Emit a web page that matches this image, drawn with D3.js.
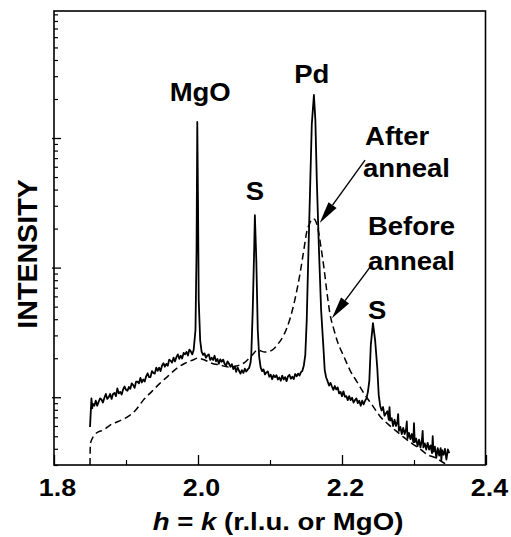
<!DOCTYPE html>
<html>
<head>
<meta charset="utf-8">
<script src="https://cdn.jsdelivr.net/npm/d3@7"></script>
<style>
  body { margin: 0; background: #fff; }
  svg { display: block; }
  text { font-family: "Liberation Sans", Arial, Helvetica, sans-serif; font-weight: bold; fill: #000; }
</style>
</head>
<body>
<svg id="chart" width="511" height="537"></svg>
<script>
// Scan after anneal: [h = k, intensity]
const afterAnneal = [
  [1.850, 5.9], [1.851, 7.6], [1.852, 9.8], [1.853, 8.2], [1.854, 8.9], [1.856, 8.6],
  [1.858, 9.4], [1.860, 8.6], [1.862, 9.2], [1.864, 9.8], [1.866, 9.6], [1.868, 9.1],
  [1.870, 9.9], [1.872, 10.6], [1.874, 9.7], [1.876, 10.0], [1.878, 10.6], [1.880, 9.7],
  [1.882, 10.6], [1.884, 10.8], [1.886, 10.2], [1.888, 11.7], [1.890, 10.7], [1.892, 11.0],
  [1.894, 10.5], [1.896, 11.5], [1.898, 12.1], [1.900, 11.4], [1.902, 11.2], [1.904, 12.0],
  [1.906, 11.6], [1.908, 12.8], [1.910, 12.4], [1.912, 11.8], [1.914, 13.2], [1.916, 13.2],
  [1.918, 12.8], [1.920, 14.1], [1.922, 13.0], [1.924, 13.7], [1.926, 13.2], [1.928, 14.5],
  [1.930, 15.3], [1.932, 14.3], [1.934, 14.3], [1.936, 15.9], [1.938, 15.4], [1.940, 15.2],
  [1.942, 16.9], [1.944, 16.0], [1.946, 16.9], [1.948, 15.9], [1.950, 17.5], [1.952, 18.3],
  [1.954, 17.2], [1.956, 18.1], [1.958, 17.5], [1.960, 19.5], [1.962, 19.1], [1.964, 18.5],
  [1.966, 20.2], [1.968, 18.9], [1.970, 20.4], [1.972, 21.4], [1.974, 19.8], [1.976, 20.9],
  [1.978, 19.9], [1.980, 22.0], [1.982, 21.4], [1.984, 22.4], [1.986, 21.0], [1.988, 23.3],
  [1.990, 22.6], [1.992, 21.4], [1.994, 23.2],
  // MgO reflection
  [1.9965, 33], [1.998, 137], [1.999, 1330], [2.000, 332], [2.001, 56],
  [2.003, 27.6], [2.005, 22.5], [2.007, 21.2], [2.009, 21.8], [2.011, 20.2], [2.013, 21.0],
  [2.015, 21.4], [2.017, 19.4], [2.019, 20.2], [2.021, 19.4], [2.023, 20.9], [2.025, 18.9],
  [2.027, 19.7], [2.029, 18.1], [2.031, 19.6], [2.033, 18.8], [2.035, 19.5], [2.037, 18.1],
  [2.039, 17.5], [2.041, 18.9], [2.043, 18.2], [2.045, 17.2], [2.047, 18.0], [2.049, 16.5],
  [2.051, 17.3], [2.053, 15.7], [2.055, 17.0], [2.057, 16.0], [2.059, 15.2], [2.061, 16.2],
  [2.063, 15.4], [2.065, 16.6], [2.067, 15.8], [2.069, 16.4], [2.071, 16.8], [2.073, 18.5],
  [2.074, 21.1],
  // substrate peak
  [2.076, 47], [2.078, 137], [2.079, 254], [2.081, 114], [2.083, 33],
  [2.085, 20.4], [2.087, 17.0], [2.089, 15.9], [2.091, 16.4], [2.093, 15.0], [2.095, 15.5],
  [2.097, 15.8], [2.099, 14.4], [2.101, 14.9], [2.103, 13.8], [2.105, 14.8], [2.107, 14.3],
  [2.109, 14.8], [2.111, 13.7], [2.113, 14.2], [2.115, 13.4], [2.117, 14.7], [2.119, 13.7],
  [2.121, 14.3], [2.123, 13.3], [2.125, 14.5], [2.127, 14.9], [2.129, 13.9], [2.131, 14.4],
  [2.133, 13.8], [2.135, 15.1], [2.137, 14.5], [2.139, 15.2], [2.141, 14.7], [2.143, 15.6],
  [2.145, 16.0], [2.147, 17.6], [2.149, 21.1],
  // Pd reflection
  [2.151, 39], [2.153, 110], [2.156, 474], [2.158, 1260], [2.161, 2150], [2.163, 1380],
  [2.165, 474], [2.168, 137], [2.171, 47],
  [2.174, 25.2], [2.176, 16.2], [2.178, 14.2], [2.180, 13.3], [2.182, 12.3], [2.184, 12.9],
  [2.186, 12.1], [2.188, 11.4], [2.190, 12.2], [2.192, 11.5], [2.194, 11.9], [2.196, 10.7],
  [2.198, 11.0], [2.200, 10.2], [2.202, 11.1], [2.204, 10.1], [2.206, 10.2], [2.208, 9.5],
  [2.210, 10.2], [2.212, 9.5], [2.214, 9.9], [2.216, 9.1], [2.218, 9.5], [2.220, 9.8],
  [2.222, 9.0], [2.224, 9.4], [2.226, 8.6], [2.228, 9.4], [2.230, 8.8], [2.232, 9.4],
  [2.234, 9.8], [2.236, 11.0], [2.238, 13.5],
  // substrate peak
  [2.240, 25.2], [2.243, 37.3], [2.246, 27.6], [2.249, 16.8],
  [2.251, 10.4], [2.253, 8.6], [2.255, 7.9], [2.257, 8.4], [2.259, 7.2], [2.261, 7.5],
  [2.263, 7.8], [2.265, 6.7], [2.266, 8.4], [2.267, 6.6], [2.269, 6.9], [2.271, 6.0],
  [2.273, 6.7], [2.275, 6.0], [2.277, 6.5], [2.278, 7.4], [2.279, 5.5], [2.281, 5.9],
  [2.283, 5.2], [2.285, 5.8], [2.287, 5.2], [2.289, 5.7], [2.290, 6.5], [2.291, 4.8],
  [2.293, 5.3], [2.295, 4.75], [2.297, 5.2], [2.299, 4.5], [2.300, 6.3], [2.301, 4.5],
  [2.303, 4.8], [2.305, 4.2], [2.307, 4.7], [2.309, 4.1], [2.311, 4.7], [2.312, 5.5],
  [2.313, 4.1], [2.315, 4.4], [2.317, 3.95], [2.319, 4.45], [2.321, 3.95], [2.323, 4.25],
  [2.325, 3.7], [2.326, 5.0], [2.327, 3.8], [2.329, 4.15], [2.331, 3.4], [2.333, 4.05],
  [2.335, 3.55], [2.337, 4.05], [2.338, 3.25], [2.339, 3.9], [2.341, 3.6], [2.343, 4.0],
  [2.345, 3.3], [2.347, 3.95], [2.349, 3.7]
];

// Scan before anneal: [h = k, intensity]
const beforeAnneal = [
  [1.850, 3.0], [1.8505, 4.4], [1.859, 5.3], [1.869, 5.6], [1.878, 6.1], [1.889, 6.5],
  [1.901, 7.0], [1.913, 7.9], [1.924, 9.5], [1.936, 11.1], [1.947, 12.8], [1.958, 14.5],
  [1.971, 16.8], [1.982, 18.3], [1.992, 19.3], [2.000, 20.0], [2.010, 19.3], [2.019, 18.3],
  [2.031, 17.7], [2.042, 17.1], [2.053, 17.4], [2.065, 18.6], [2.075, 21.1], [2.083, 23.1],
  [2.093, 22.3], [2.103, 23.1], [2.111, 25.7], [2.119, 30.1], [2.128, 40.7], [2.135, 58],
  [2.142, 92], [2.147, 137], [2.151, 188], [2.156, 225], [2.158, 237], [2.161, 237],
  [2.164, 225], [2.167, 195], [2.171, 141], [2.175, 99], [2.179, 65], [2.183, 45],
  [2.189, 32.9], [2.194, 26.6], [2.203, 20.4], [2.211, 16.2], [2.221, 13.1], [2.231, 10.6],
  [2.242, 8.7], [2.253, 7.1], [2.264, 6.2], [2.275, 5.5], [2.286, 4.9], [2.297, 4.4],
  [2.308, 4.0], [2.319, 3.6], [2.331, 3.4], [2.340, 3.15], [2.347, 3.0]
];

const xDomain = [1.8, 2.4];
const yDomain = [3, 9550];
const xMajorTicks = [1.8, 2.0, 2.2, 2.4];
const xTickLabels = ["1.8", "2.0", "2.2", "2.4"];
const xMinorTicks = [1.9, 2.1, 2.3];
const yDecades = [10, 100, 1000];

// Peak and curve labels: [text, h, intensity, anchor]
const peakLabels = [
  ["MgO", 2.003, 1930, "middle"],
  ["S", 2.079, 332, "middle"],
  ["Pd", 2.158, 2660, "middle"],
  ["S", 2.249, 40, "middle"],
  ["After", 2.232, 883, "start"],
  ["anneal", 2.229, 500, "start"],
  ["Before", 2.236, 178, "start"],
  ["anneal", 2.236, 96, "start"]
];

// Arrows: [[h0, I0], [h1, I1]] from label to curve
const arrows = [
  [[2.232, 676], [2.169, 221]],
  [[2.239, 101], [2.186, 40.7]]
];

const svg = d3.select("#chart");
const W = 511, H = 537;
const mLeft = 54, mRight = 486, mTop = 11, mBottom = 465;

const x = d3.scaleLinear().domain(xDomain).range([mLeft, mRight]);
const y = d3.scaleLog().domain(yDomain).range([mBottom, mTop]);

svg.append("rect").attr("width", W).attr("height", H).attr("fill", "#fff");

svg.append("defs").append("clipPath").attr("id", "plot")
  .append("rect").attr("x", mLeft).attr("y", mTop).attr("width", mRight - mLeft - 0.5).attr("height", mBottom - mTop);

// Curves
const solidLine = d3.line().x(d => x(d[0])).y(d => y(d[1])).curve(d3.curveLinear);
const dashLine = d3.line().x(d => x(d[0])).y(d => y(d[1])).curve(d3.curveMonotoneX);

const plot = svg.append("g").attr("clip-path", "url(#plot)");
plot.append("path").datum(beforeAnneal)
  .attr("d", dashLine).attr("fill", "none").attr("stroke", "#000")
  .attr("stroke-width", 1.5).attr("stroke-dasharray", "7,4");
plot.append("path").datum(afterAnneal)
  .attr("d", solidLine).attr("fill", "none").attr("stroke", "#000")
  .attr("stroke-width", 1.8).attr("stroke-linejoin", "round");

// Frame
svg.append("rect").attr("x", mLeft).attr("y", mTop)
  .attr("width", mRight - mLeft - 0.5).attr("height", mBottom - mTop)
  .attr("fill", "none").attr("stroke", "#000").attr("stroke-width", 1.6);

// Bottom axis ticks (inward) and labels
const xAxis = d3.axisBottom(x).tickValues(xMajorTicks).tickSize(-10).tickFormat((d, i) => xTickLabels[i]);
const gx = svg.append("g").attr("transform", `translate(0,${mBottom})`).call(xAxis);
gx.attr("font-family", null).attr("font-size", null);
gx.select(".domain").remove();
gx.selectAll(".tick line").attr("stroke", "#000").attr("stroke-width", 1.3);
gx.selectAll(".tick text")
  .attr("y", 0).attr("dy", null).attr("fill", "#000")
  .attr("transform", "translate(3,31) scale(1.12,1)")
  .style("font-size", "24px");

const gxm = svg.append("g").attr("transform", `translate(0,${mBottom})`)
  .call(d3.axisBottom(x).tickValues(xMinorTicks).tickSize(-5).tickFormat(""));
gxm.select(".domain").remove();
gxm.selectAll(".tick line").attr("stroke", "#000").attr("stroke-width", 1.2);

// Left axis: logarithmic decades with minor ticks
const minorY = [];
for (let p = 0; p <= 3; p++) {
  for (let m = 2; m <= 9; m++) {
    const v = m * Math.pow(10, p);
    if (v >= yDomain[0] && v <= yDomain[1]) minorY.push(v);
  }
}
const gy = svg.append("g").attr("transform", `translate(${mLeft},0)`)
  .call(d3.axisLeft(y).tickValues(minorY).tickSize(-4).tickFormat(""));
gy.select(".domain").remove();
gy.selectAll(".tick line").attr("stroke", "#000").attr("stroke-width", 1.2);

const gyM = svg.append("g").attr("transform", `translate(${mLeft},0)`)
  .call(d3.axisLeft(y).tickValues(yDecades).tickSize(-7).tickFormat(""));
gyM.select(".domain").remove();
gyM.selectAll(".tick line").attr("x1", -2).attr("stroke", "#000").attr("stroke-width", 1.3);

// Axis titles
svg.append("text")
  .attr("transform", `translate(37,254) rotate(-90) scale(1.06,1)`)
  .attr("text-anchor", "middle")
  .style("font-size", "27px")
  .text("INTENSITY");

const xt = svg.append("text")
  .attr("transform", `translate(278,530) scale(1.15,1)`)
  .attr("text-anchor", "middle")
  .style("font-size", "24px");
xt.append("tspan").style("font-style", "italic").text("h");
xt.append("tspan").text(" = ");
xt.append("tspan").style("font-style", "italic").text("k");
xt.append("tspan").text(" (r.l.u. or MgO)");

// Peak labels
svg.append("g").selectAll("text").data(peakLabels).join("text")
  .attr("transform", d => `translate(${x(d[1])},${y(d[2])}) scale(1.1,1)`)
  .attr("text-anchor", d => d[3])
  .style("font-size", "25px")
  .text(d => d[0]);

// Arrows with filled heads
const ag = svg.append("g");
arrows.forEach(([a, b]) => {
  const x0 = x(a[0]), y0 = y(a[1]), x1 = x(b[0]), y1 = y(b[1]);
  const ang = Math.atan2(y1 - y0, x1 - x0);
  const len = 22, half = 5;
  const bx = x1 - len * Math.cos(ang), by = y1 - len * Math.sin(ang);
  ag.append("line").attr("x1", x0).attr("y1", y0).attr("x2", bx).attr("y2", by)
    .attr("stroke", "#000").attr("stroke-width", 1.4);
  const px = -Math.sin(ang) * half, py = Math.cos(ang) * half;
  ag.append("path")
    .attr("d", `M${x1},${y1}L${bx + px},${by + py}L${bx - px},${by - py}Z`)
    .attr("fill", "#000");
});
</script>
</body>
</html>
